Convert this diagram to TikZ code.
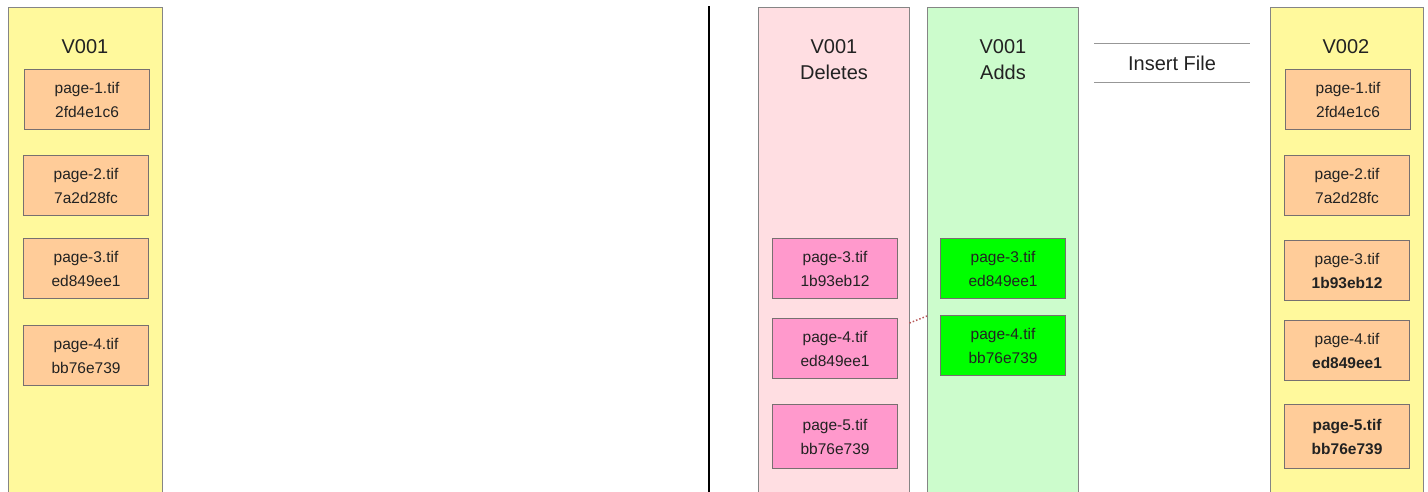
\documentclass[tikz,border=0pt]{standalone}
\usepackage{fontspec}
\setmainfont{Liberation Sans}
\definecolor{laneyellow}{HTML}{FFF99C}
\definecolor{lanepink}{HTML}{FFDEE2}
\definecolor{lanegreen}{HTML}{CCFCCC}
\definecolor{fileorange}{HTML}{FFCC99}
\definecolor{filepink}{HTML}{FF99CC}
\definecolor{filegreen}{HTML}{00FF00}
\definecolor{edgegray}{HTML}{858585}
\definecolor{boxedge}{HTML}{777070}
\definecolor{linkred}{HTML}{B85858}
\definecolor{inkgray}{HTML}{222222}
\tikzset{
  lane/.style={draw=edgegray, line width=1pt, minimum height=500pt,
    anchor=north west, inner sep=0pt},
  lanetitle/.style={text=inkgray, align=center, inner sep=0pt,
    font=\fontsize{20}{26}\selectfont},
  filebox/.style={draw=boxedge, line width=1.1pt, minimum width=125pt, minimum height=60pt,
    anchor=north west, inner sep=0pt, align=center, text=inkgray,
    font=\fontsize{15.5}{24}\selectfont},
  orangefile/.style={filebox, fill=fileorange},
  pinkfile/.style={filebox, fill=filepink},
  greenfile/.style={filebox, fill=filegreen},
}
\begin{document}
\begin{tikzpicture}[x=1pt,y=-1pt]
\useasboundingbox (0,0) rectangle (1428,491);
\clip (0,0) rectangle (1428,491);

% version V001
\node[lane, fill=laneyellow, minimum width=154pt] (v1) at (8,7) {};
\node[lanetitle] (v1t) at (85,47) {V001};
\node[orangefile] (a1) at (24,69) {page-1.tif\\2fd4e1c6};
\node[orangefile] (a2) at (23,155) {page-2.tif\\7a2d28fc};
\node[orangefile] (a3) at (23,238) {page-3.tif\\ed849ee1};
\node[orangefile] (a4) at (23,325) {page-4.tif\\bb76e739};

% separator
\coordinate (septop) at (709,6);
\coordinate (sepbot) at (709,495);
\draw[line width=2pt, black] (septop) -- (sepbot);

% deletes lane
\node[lane, fill=lanepink, minimum width=151pt] (del) at (758,7) {};
\node[lanetitle] (delt) at (834,60) {V001\\Deletes};
\node[pinkfile] (d3) at (772,238) {page-3.tif\\1b93eb12};
\node[pinkfile] (d4) at (772,318) {page-4.tif\\ed849ee1};
\node[pinkfile, minimum height=64pt] (d5) at (772,404) {page-5.tif\\bb76e739};

% adds lane
\node[lane, fill=lanegreen, minimum width=151pt] (add) at (927,7) {};
\node[lanetitle] (addt) at (1003,60) {V001\\Adds};
\node[greenfile] (g3) at (940,238) {page-3.tif\\ed849ee1};
\node[greenfile] (g4) at (940,315) {page-4.tif\\bb76e739};

% link between the two lanes
\coordinate (linkl) at (909.5,323);
\coordinate (linkr) at (927,316);
\draw[dotted, line width=1.5pt, color=linkred] (linkl) -- (linkr);

% operation label
\node[minimum width=155pt, minimum height=39pt, inner sep=0pt, text=inkgray,
  font=\fontsize{20}{24}\selectfont] (op) at (1172,63) {Insert File};
\draw[edgegray!85, line width=1.3pt] (op.north west) -- (op.north east);
\draw[edgegray!85, line width=1.3pt] (op.south west) -- (op.south east);

% version V002
\node[lane, fill=laneyellow, minimum width=153pt] (v2) at (1270,7) {};
\node[lanetitle] (v2t) at (1346,47) {V002};
\node[orangefile] (b1) at (1285,69) {page-1.tif\\2fd4e1c6};
\node[orangefile] (b2) at (1284,155) {page-2.tif\\7a2d28fc};
\node[orangefile] (b3) at (1284,240) {page-3.tif\\\textbf{1b93eb12}};
\node[orangefile] (b4) at (1284,320) {page-4.tif\\\textbf{ed849ee1}};
\node[orangefile, minimum height=64pt] (b5) at (1284,404) {\textbf{page-5.tif}\\\textbf{bb76e739}};
\end{tikzpicture}
\end{document}
